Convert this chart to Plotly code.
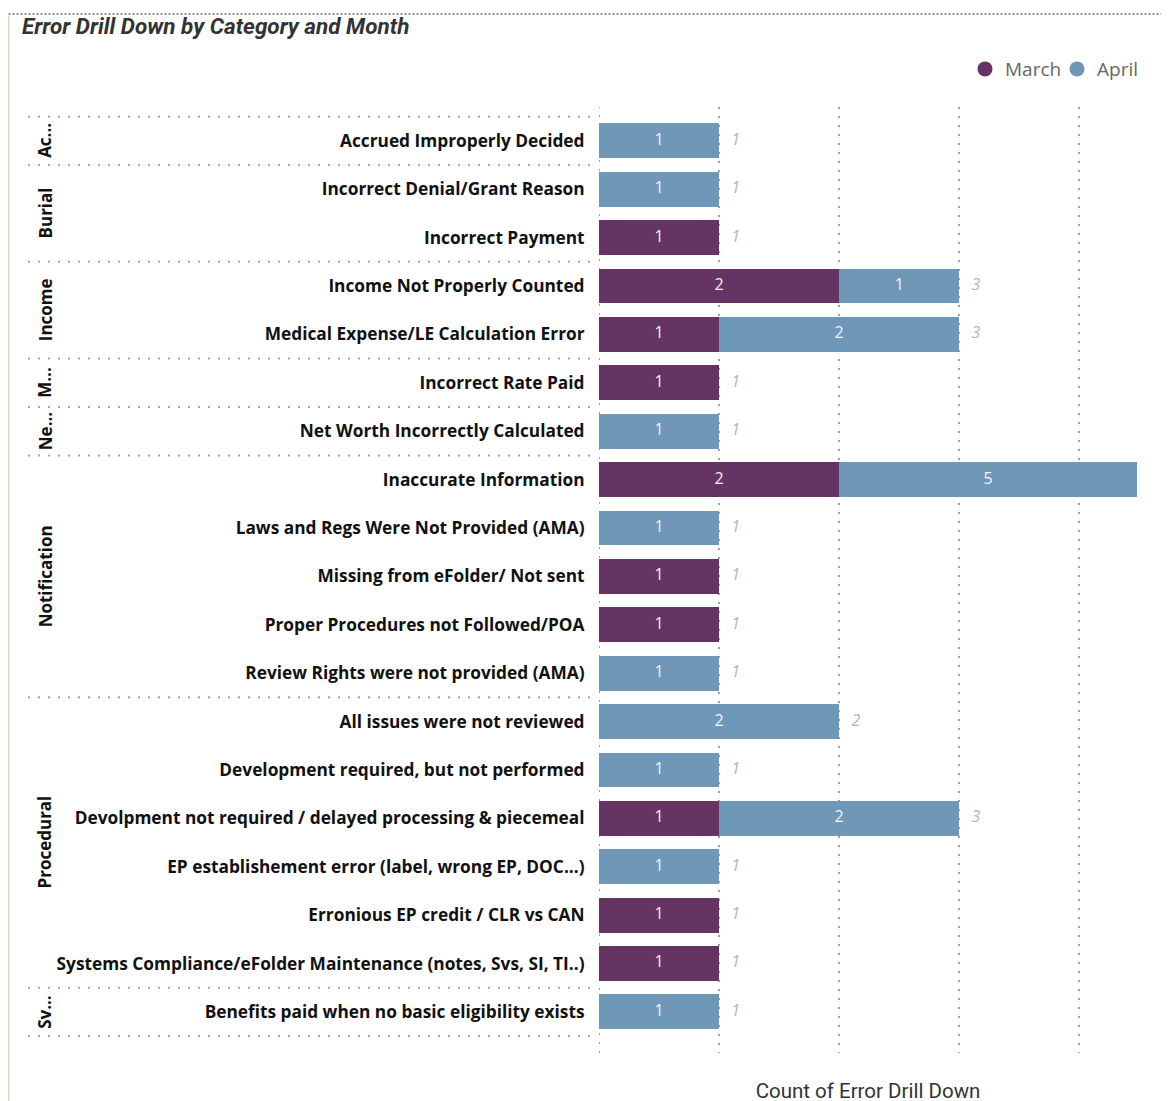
import plotly.graph_objects as go

# ---------------- data ----------------
groups = ["Ac...", "Burial", "Burial", "Income", "Income", "M...", "Ne...",
          "Notification", "Notification", "Notification", "Notification", "Notification",
          "Procedural", "Procedural", "Procedural", "Procedural", "Procedural", "Procedural",
          "Sv..."]
subcategories = [
    "Accrued Improperly Decided",
    "Incorrect Denial/Grant Reason",
    "Incorrect Payment",
    "Income Not Properly Counted",
    "Medical Expense/LE Calculation Error",
    "Incorrect Rate Paid",
    "Net Worth Incorrectly Calculated",
    "Inaccurate Information",
    "Laws and Regs Were Not Provided (AMA)",
    "Missing from eFolder/ Not sent",
    "Proper Procedures not Followed/POA",
    "Review Rights were not provided (AMA)",
    "All issues were not reviewed",
    "Development required, but not performed",
    "Devolpment not required / delayed processing & piecemeal",
    "EP establishement error (label, wrong EP, DOC...)",
    "Erronious EP credit / CLR vs CAN",
    "Systems Compliance/eFolder Maintenance (notes, Svs, SI, TI..)",
    "Benefits paid when no basic eligibility exists",
]
march = [0, 0, 1, 2, 1, 1, 0, 2, 0, 1, 1, 0, 0, 0, 1, 0, 1, 1, 0]
april = [1, 1, 0, 1, 2, 0, 1, 5, 1, 0, 0, 1, 2, 1, 2, 1, 0, 0, 1]
series_names = ["March", "April"]
x_ticks = [0, 1, 2, 3, 4]
x_title = "Count of Error Drill Down"
title_text = "Error Drill Down by Category and Month"

# ---------------- style / layout ----------------
C_MARCH = "#663462"
C_APRIL = "#6F97B8"
GRID = dict(color="#A0A0A0", width=2, dash="2px,7px")
OFF_X, OFF_Y = 8, 6.5            # page body offset
W, H = 1169 - OFF_X, 1101 - 6
# plot area given in page pixels, converted to figure pixels
PL, PR, PT, PB = 599 - OFF_X, 1137 - OFF_X, 105 - OFF_Y, 1052 - OFF_Y
X_MAX = 4.48
Y_TOP, Y_BOT = -0.70, 18.85


def fx(page_px):
    return (page_px - OFF_X - PL) / (PR - PL)


def fy(page_py):
    return (PB - (page_py - OFF_Y)) / (PB - PT)


rows = list(range(len(subcategories)))
totals = [m + a for m, a in zip(march, april)]

fig = go.Figure()
for name, vals, col in [(series_names[0], march, C_MARCH), (series_names[1], april, C_APRIL)]:
    fig.add_trace(go.Bar(
        y=rows, x=vals, orientation="h", name=name,
        marker=dict(color=col, line=dict(width=0)),
        showlegend=False, hoverinfo="skip",
    ))

# segment labels, centred in the visible part of each segment
seg_x, seg_y, seg_t = [], [], []
for r, m, a in zip(rows, march, april):
    start = 0
    for v in (m, a):
        if v:
            end = start + v
            seg_x.append((start + min(end, X_MAX)) / 2)
            seg_y.append(r)
            seg_t.append(str(v))
        start += v
fig.add_trace(go.Scatter(
    x=seg_x, y=seg_y, mode="text", text=seg_t, textposition="middle center",
    textfont=dict(family="Open Sans", size=16, color="#F2F2F2"),
    showlegend=False, hoverinfo="skip",
))

# total labels (a total beyond the visible axis range is not shown)
fig.add_trace(go.Scatter(
    y=rows, x=totals, mode="markers+text",
    marker=dict(size=18, color="rgba(0,0,0,0)"),
    text=[str(t) if t < X_MAX else "" for t in totals], textposition="middle right",
    textfont=dict(family="Open Sans", size=16, color="#B5B5B5", style="italic"),
    showlegend=False, hoverinfo="skip", cliponaxis=True,
))

# legend entries with circle markers
for name, col in [(series_names[0], C_MARCH), (series_names[1], C_APRIL)]:
    fig.add_trace(go.Scatter(
        x=[None], y=[None], mode="markers", name=name,
        marker=dict(symbol="circle", size=15, color=col),
    ))

# group labels and separators
shapes = []
annotations = []
boundaries = [-0.5]
start = 0
for i in range(1, len(groups) + 1):
    if i == len(groups) or groups[i] != groups[start]:
        mid = (start + i - 1) / 2
        annotations.append(dict(
            x=fx(45), xref="paper", y=mid, yref="y",
            text="<b>" + groups[start] + "</b>", textangle=-90, showarrow=False,
            font=dict(family="Open Sans", size=17, color="#111111"),
            xanchor="center", yanchor="middle",
        ))
        boundaries.append(i - 0.5)
        start = i

for b in boundaries:
    shapes.append(dict(
        type="line", xref="paper", yref="y",
        x0=fx(28), x1=fx(598), y0=b, y1=b,
        line=dict(color="#A8A8A8", width=2, dash="2px,8px"),
    ))

# gridline at the axis origin (plotly drops the one on the plot edge)
shapes.append(dict(
    type="line", xref="x", yref="paper", layer="below",
    x0=x_ticks[0], x1=x_ticks[0], y0=0, y1=1, line=GRID,
))

# visual frame: top dotted border and left solid border
shapes.append(dict(
    type="line", xref="paper", yref="paper",
    x0=fx(8.5), x1=fx(1169), y0=fy(12), y1=fy(12),
    line=dict(color="#8A8A8A", width=2, dash="2px,2px"),
))
shapes.append(dict(
    type="line", xref="paper", yref="paper",
    x0=fx(8.5), x1=fx(8.5), y0=fy(12), y1=fy(1101),
    line=dict(color="#DCDAD0", width=2),
))

fig.update_layout(
    width=W, height=H,
    margin=dict(l=PL, r=W - PR, t=PT, b=H - PB, pad=0, autoexpand=False),
    barmode="stack", bargap=0.28,
    plot_bgcolor="white", paper_bgcolor="white",
    font=dict(family="Open Sans", color="#222222"),
    title=dict(
        text="<b><i>" + title_text + "</i></b>",
        x=(22 - OFF_X) / W, xref="container", xanchor="left",
        y=1 - (25 - OFF_Y) / H, yref="container", yanchor="middle",
        font=dict(family="Roboto", size=22.5, color="#333333"),
    ),
    legend=dict(
        orientation="h", x=fx(1149), xanchor="right", xref="paper",
        y=fy(67), yanchor="middle", yref="paper",
        font=dict(family="Open Sans", size=19, color="#666666"),
        itemwidth=30, tracegroupgap=0, bgcolor="rgba(0,0,0,0)",
        traceorder="normal", entrywidth=47,
    ),
    xaxis=dict(
        range=[0, X_MAX], tickvals=x_ticks, showticklabels=False,
        showgrid=True, gridcolor=GRID["color"], griddash=GRID["dash"], gridwidth=GRID["width"],
        zeroline=False, showline=False, ticks="", automargin=False,
        title=dict(text=x_title, standoff=32,
                   font=dict(family="Roboto", size=20.5, color="#333333")),
        fixedrange=True,
    ),
    yaxis=dict(
        range=[Y_BOT, Y_TOP], tickvals=rows, automargin=False,
        ticktext=["<b>" + s + "</b>" for s in subcategories],
        tickfont=dict(family="Open Sans", size=17.3, color="#111111"),
        ticks="outside", ticklen=10, tickcolor="rgba(0,0,0,0)",
        showgrid=False, zeroline=False, showline=False,
    ),
    shapes=shapes, annotations=annotations,
)

fig.write_html("out.html")
